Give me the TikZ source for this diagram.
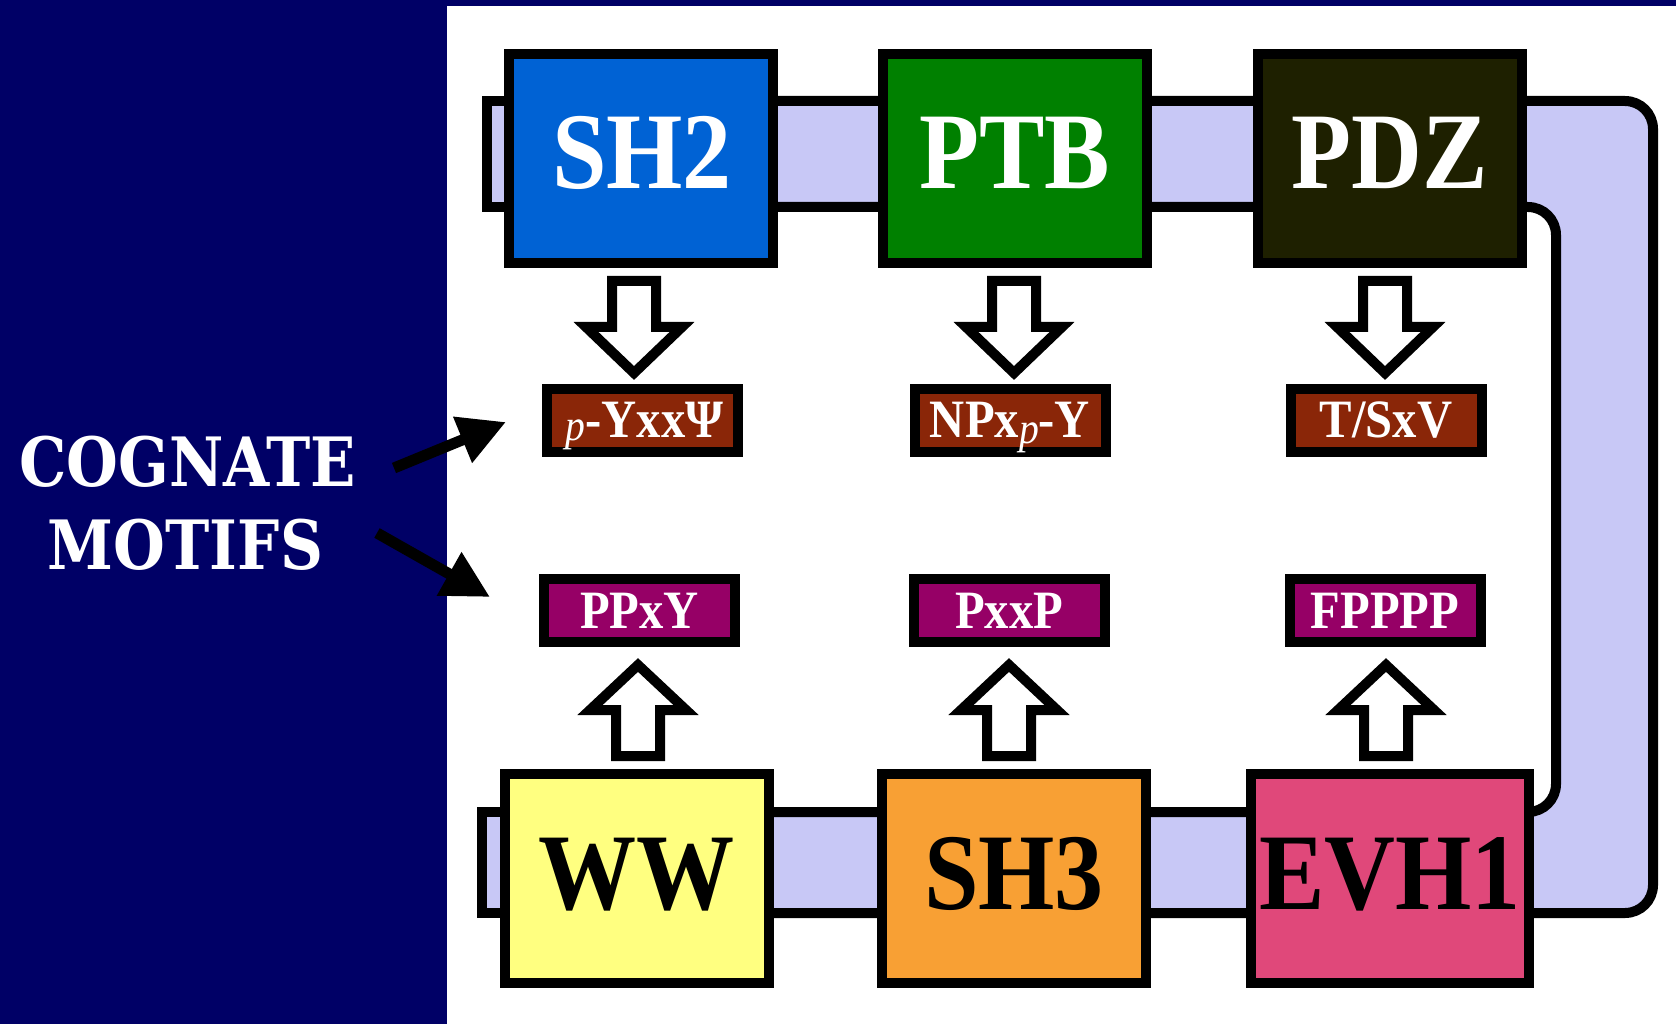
\documentclass[tikz,border=0pt]{standalone}
\usepackage{fontspec}
\usepackage{graphicx}
\setmainfont{Liberation Serif}
\newfontfamily\cogfont{DejaVu Serif}
\usetikzlibrary{arrows.meta,calc}
\definecolor{navybg}{RGB}{0,0,102}
\definecolor{lav}{RGB}{200,200,246}
\definecolor{csh}{RGB}{0,98,212}
\definecolor{cptb}{RGB}{0,128,0}
\definecolor{cpdz}{RGB}{30,32,0}
\definecolor{cww}{RGB}{255,255,128}
\definecolor{csht}{RGB}{248,160,52}
\definecolor{cevh}{RGB}{224,72,122}
\definecolor{cmtop}{RGB}{138,38,8}
\definecolor{cmbot}{RGB}{150,0,102}
\newcommand{\domlab}[1]{\scalebox{0.9}[1]{#1}}
\newcommand{\motlab}[1]{\scalebox{0.9}[1]{#1}}
\newcommand{\coglab}[1]{\scalebox{0.875}[1]{#1}}
\newcommand{\ip}{{\fontsize{44}{50}\selectfont\mdseries\itshape p}}
\tikzset{
  band/.style={fill=lav, draw=black, line width=10pt, rounded corners=28pt},
  dom/.style={draw=black, line width=10pt, minimum width=264pt, minimum height=209pt, inner sep=0pt, outer sep=0pt},
  dtxt/.style={anchor=base, inner sep=0pt, font=\bfseries\fontsize{109}{120}\selectfont},
  motif/.style={draw=black, line width=10pt, minimum width=191pt, minimum height=63pt, inner sep=0pt, outer sep=0pt},
  mtxt/.style={anchor=base, inner sep=0pt, text=white, font=\bfseries\fontsize{54}{60}\selectfont},
  blk/.style={draw=black, fill=white, line width=10pt, line join=miter},
  bdown/.pic={\draw[blk] (-22,0) -- (22,0) -- (22,46) -- (48,46) -- (0,92) -- (-48,46) -- (-22,46) -- cycle;},
  bup/.pic={\draw[blk] (-22,0) -- (22,0) -- (22,-46) -- (48,-46) -- (0,-91) -- (-48,-46) -- (-22,-46) -- cycle;},
  ptr/.style={draw=black, line width=11pt, -{Triangle[length=47pt,width=47pt]}},
  cog/.style={anchor=base, inner sep=0pt, text=white, font=\cogfont\bfseries\fontsize{68}{80}\selectfont}
}
\begin{document}
\begin{tikzpicture}[x=1pt,y=-1pt]
\useasboundingbox (0,0) rectangle (1676,1024);
\fill[navybg] (0,0) rectangle (1676,1024);
\fill[white] (447,6) rectangle (1676,1024);

% linker band
\draw[band] (620,101) -- (1653,101) -- (1653,913) -- (620,913) -- (620,812) -- (1556,812) -- (1556,207) -- (620,207) -- cycle;
\draw[band, sharp corners] (487,101) rectangle (560,207);
\draw[band, sharp corners] (482,812) rectangle (560,913);

% domains
\node[dom, fill=csh] (sh2) at (641,158.5) {};
\node[dom, fill=cptb] (ptb) at (1015,158.5) {};
\node[dom, fill=cpdz] (pdz) at (1389.5,158.5) {};
\node[dom, fill=cww] (ww) at (636.5,878.5) {};
\node[dom, fill=csht] (sh3) at (1014,878.5) {};
\node[dom, fill=cevh, minimum width=278pt] (evh) at (1390,878.5) {};

\node[dtxt, text=white] (sh2t) at ($(sh2.center)+(1,30.5)$) {\domlab{SH2}};
\node[dtxt, text=white] (ptbt) at ($(ptb.center)+(0,30.5)$) {\domlab{PTB}};
\node[dtxt, text=white] (pdzt) at ($(pdz.center)+(0,30.5)$) {\domlab{PDZ}};
\node[dtxt, text=black] (wwt) at ($(ww.center)+(0,30.5)$) {\domlab{WW}};
\node[dtxt, text=black] (sh3t) at ($(sh3.center)+(0,30.5)$) {\domlab{SH3}};
\node[dtxt, text=black] (evht) at ($(evh.center)+(0,30.5)$) {\domlab{EVH1}};

% motifs
\node[motif, fill=cmtop] (m1) at (642.5,420.5) {};
\node[motif, fill=cmtop] (m2) at (1010,420.5) {};
\node[motif, fill=cmtop] (m3) at (1386,420.5) {};
\node[motif, fill=cmbot] (m4) at (639.5,610.5) {};
\node[motif, fill=cmbot] (m5) at (1009,610.5) {};
\node[motif, fill=cmbot] (m6) at (1385,610.5) {};

\node[mtxt] (m1t) at ($(m1.center)+(2,16.5)$) {\motlab{\raisebox{-3pt}{\ip}-YxxΨ}};
\node[mtxt] (m2t) at ($(m2.center)+(0,16.5)$) {\motlab{NPx\raisebox{-6pt}{\ip}-Y}};
\node[mtxt] (m3t) at ($(m3.center)+(0,16.5)$) {\motlab{T/SxV}};
\node[mtxt] (m4t) at ($(m4.center)+(0,17.5)$) {\motlab{PPxY}};
\node[mtxt] (m5t) at ($(m5.center)+(0,17.5)$) {\motlab{PxxP}};
\node[mtxt] (m6t) at ($(m6.center)+(0,17.5)$) {\motlab{FPPPP}};

% block arrows
\pic at ($(sh2.south)+(-7,18)$) {bdown};
\pic at ($(ptb.south)+(-1,18)$) {bdown};
\pic at ($(pdz.south)+(-4.5,18)$) {bdown};
\pic at ($(ww.north)+(1.5,-18)$) {bup};
\pic at ($(sh3.north)+(-5,-18)$) {bup};
\pic at ($(evh.north)+(-4,-18)$) {bup};

% label
\node[cog] (cogn) at (187.5,486) {\coglab{COGNATE}};
\node[cog] (motf) at (185.5,569) {\coglab{MOTIFS}};
\coordinate (a1s) at (394,468);
\coordinate (a1e) at (506,422);
\coordinate (a2s) at (377,533);
\coordinate (a2e) at (490,597);
\draw[ptr] (a1s) -- (a1e);
\draw[ptr] (a2s) -- (a2e);
\end{tikzpicture}
\end{document}
